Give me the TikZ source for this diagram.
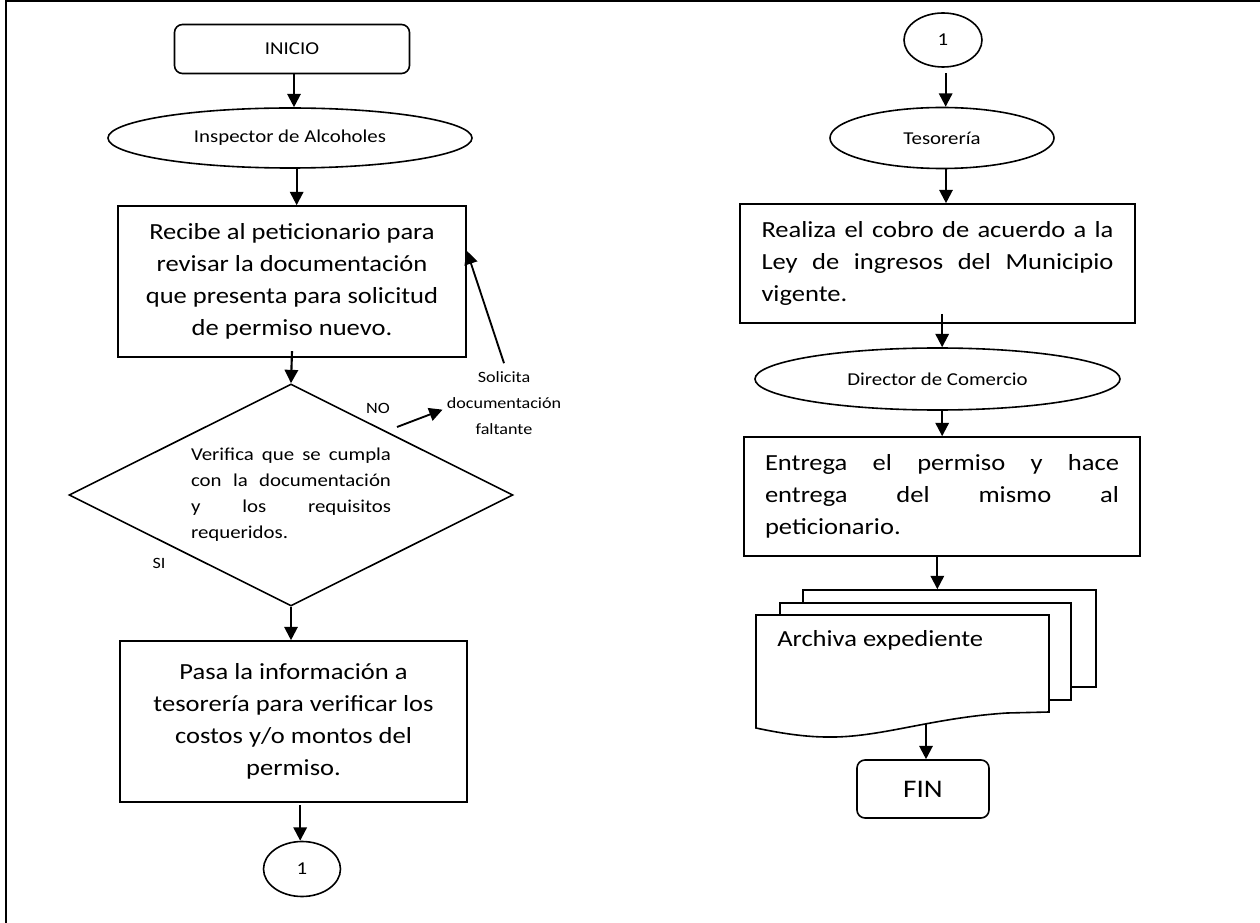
\documentclass[tikz,border=0pt]{standalone}
\usepackage{fontspec}
\setmainfont{Carlito}[FakeStretch=1.15]
\usetikzlibrary{arrows.meta,shapes.geometric}
\hyphenpenalty=10000 \exhyphenpenalty=10000
\newcommand\fbig{\fontsize{17.3pt}{24pt}\selectfont}
\newcommand\fmid{\fontsize{13.6pt}{19.5pt}\selectfont}
\newcommand\fsmall{\fontsize{11.8pt}{19.5pt}\selectfont}
\newcommand\ffin{\fontsize{19pt}{22pt}\selectfont}
\begin{document}
\begin{tikzpicture}[x=0.75pt,y=-0.75pt,
  shp/.style={draw, line width=1.2pt, inner sep=0pt},
  proc/.style={shp, rectangle, font=\fbig, align=center},
  term/.style={shp, rectangle, rounded corners=6pt},
  oval/.style={shp, ellipse, font=\fmid},
  arr/.style={line width=1.6pt, -{Triangle[length=10pt,width=10pt]}},
  lbl/.style={inner sep=0pt}
]
\useasboundingbox (0,0) rectangle (1260,923);
\draw[line width=1.5pt] (6,923) -- (6,1) -- (1260,1);

% left column
\node[term, font=\fmid, minimum width=176.25pt, minimum height=36.75pt] (inicio) at (292,49) {INICIO};
\node[oval, minimum width=273pt, minimum height=45pt] (inspector) at (290,138) {Inspector de Alcoholes};
\node[proc, minimum width=261pt, minimum height=113.25pt] (recibe) at (292,281.5)
  {Recibe al peticionario para\\revisar la documentación\\que presenta para solicitud\\de permiso nuevo.};
\node[shp, diamond, aspect=2, minimum width=333pt, minimum height=166.5pt, font=\fmid,
  text width=150pt, align=justify] (dec) at (291,495)
  {Verifica que se cumpla\linebreak con la documentación\linebreak y los requisitos\linebreak requeridos.};
\node[lbl, font=\fsmall] (no) at (378,408) {NO};
\node[lbl, font=\fsmall] (si) at (159,563) {SI};
\node[font=\fsmall, align=center, inner sep=3pt] (sol) at (504,403) {Solicita\\documentación\\faltante};
\node[proc, minimum width=260.25pt, minimum height=120.75pt] (pasa) at (293.5,721.5)
  {Pasa la información a\\tesorería para verificar los\\costos y/o montos del\\permiso.};
\node[oval, minimum width=57.75pt, minimum height=41.25pt] (c1a) at (302,869) {1};

% right column
\node[oval, minimum width=58.5pt, minimum height=40.5pt] (c1b) at (943,40) {1};
\node[oval, minimum width=168pt, minimum height=45.75pt] (teso) at (942,138) {Tesorería};
\node[proc, minimum width=296.25pt, minimum height=89.25pt, text width=264pt, align=justify] (realiza) at (937.5,263.5)
  {Realiza el cobro de acuerdo a la\linebreak Ley de ingresos del Municipio\linebreak vigente.};
\node[oval, minimum width=273.75pt, minimum height=46.5pt] (director) at (937.5,379) {Director de Comercio};
\node[proc, minimum width=297pt, minimum height=89.25pt, text width=265.5pt, align=justify] (entrega) at (942,496.5)
  {Entrega el permiso y hace\linebreak entrega del mismo al\linebreak peticionario.};
\node[shp, fill=white, minimum width=219.75pt, minimum height=72.75pt] (doc3) at (949.5,638.5) {};
\node[shp, fill=white, minimum width=218.25pt, minimum height=72.75pt] (doc2) at (925.5,651.5) {};
\draw[line width=1.2pt, fill=white] (756,615) -- (1049,615) -- (1049,712) -- (1007,713)
  .. controls (930,718) and (880,738) .. (827,737)
  .. controls (800,737) and (770,731) .. (756,728) -- cycle;
\node[lbl, font=\fbig, anchor=west] (archiva) at (777,640) {Archiva expediente};
\coordinate (docbot) at (926,723.5);
\node[term, font=\ffin, minimum width=99pt, minimum height=43.5pt] (fin) at (923,789) {FIN};

% connectors
\coordinate (s1) at ([xshift=1.5pt]inicio.south);
\draw[arr] (s1) -- (s1 |- inspector.north);
\coordinate (s2) at ([xshift=5pt]inspector.south);
\draw[arr] (s2) -- (s2 |- recibe.north);
\draw[arr] ([yshift=5pt]recibe.south) -- (dec.north);
\draw[arr] (dec.south) -- (dec.south |- pasa.north);
\coordinate (s3) at ([xshift=5pt,yshift=-2pt]pasa.south);
\draw[arr] (s3) -- (s3 |- c1a.north);
\coordinate (noS) at (397,427);
\draw[arr, line width=1.4pt] (noS) -- ([yshift=-5pt]sol.west);
\draw[arr, line width=1.4pt] ([yshift=3pt]sol.north) -- ([yshift=23pt]recibe.east);

\coordinate (s4) at ([xshift=2pt,yshift=-4pt]c1b.south);
\draw[arr] (s4) -- (s4 |- teso.north);
\coordinate (s5) at ([xshift=3pt]teso.south);
\draw[arr] (s5) -- (s5 |- realiza.north);
\coordinate (s6) at ([xshift=3.5pt,yshift=7.5pt]realiza.south);
\draw[arr] (s6) -- (s6 |- director.north);
\coordinate (s7) at ([xshift=3.5pt]director.south);
\draw[arr] (s7) -- (s7 |- entrega.north);
\coordinate (s8) at ([xshift=-3.5pt]entrega.south);
\draw[arr] (s8) -- (s8 |- doc3.north);
\draw[arr] (docbot) -- (docbot |- fin.north);
\end{tikzpicture}
\end{document}
